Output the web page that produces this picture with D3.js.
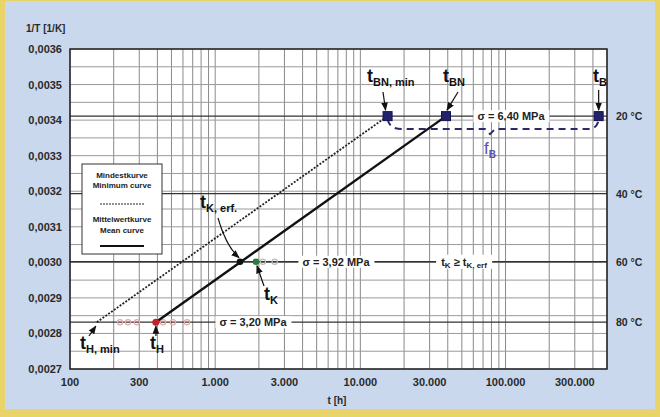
<!DOCTYPE html>
<html><head><meta charset="utf-8">
<script src="https://cdn.jsdelivr.net/npm/d3@7"></script>
<style>
html,body{margin:0;padding:0;background:#fff;}
svg text{font-family:"Liberation Sans",Arial,sans-serif;}
</style></head>
<body><svg id="c" width="660" height="417"></svg>
<script>
// ---- data ----
const xTicks = [100, 300, 1000, 3000, 10000, 30000, 100000, 300000];
const xTickLabels = ["100", "300", "1.000", "3.000", "10.000", "30.000", "100.000", "300.000"];
const yTicks = [0.0027, 0.0028, 0.0029, 0.0030, 0.0031, 0.0032, 0.0033, 0.0034, 0.0035, 0.0036];
const yTickLabels = ["0,0027", "0,0028", "0,0029", "0,0030", "0,0031", "0,0032", "0,0033", "0,0034", "0,0035", "0,0036"];
const tempsC = [20, 40, 60, 80];
const tempLabels = ["20 °C", "40 °C", "60 °C", "80 °C"];
const meanCurveT = [390, 38900];       // t_H -> t_BN
const meanCurveC = [80, 20];
const minCurveT = [153, 15400];       // t_H,min -> t_BN,min
const minCurveC = [80, 20];
const tBNmin = 15400, tBN = 38900, tB = 438000;
const tKerf = 1483, tK = 1910, tH = 390, tHmin = 153;
const faintPts80 = [221, 251, 289, 437, 512, 640];
const faintPts60 = [2130, 2570];
const sigmaLabels = ["σ = 6,40 MPa", "σ = 3,92 MPa", "σ = 3,20 MPa"];

const invT = c => 1 / (c + 273.15);

const svg = d3.select("#c");
const W = 660, H = 417;
const L = 70, R = 607, T = 49, B = 369;
const x = d3.scaleLog().domain([100, 500000]).range([L, R]);
const y = d3.scaleLinear().domain([0.0027, 0.0036]).range([B, T]);

// background
svg.append("rect").attr("width", W).attr("height", H).attr("fill", "#e9d46a");
svg.append("rect").attr("x", 5).attr("y", 1).attr("width", W - 10).attr("height", H - 9).attr("fill", "#c9d8ec");
svg.append("rect").attr("x", L).attr("y", T).attr("width", R - L).attr("height", B - T).attr("fill", "#fff");

const defs = svg.append("defs");
defs.append("marker").attr("id", "ah").attr("viewBox", "0 0 10 10").attr("refX", 9).attr("refY", 5)
  .attr("markerWidth", 7).attr("markerHeight", 7).attr("orient", "auto")
  .append("path").attr("d", "M0,1 L10,5 L0,9 Z").attr("fill", "#111");

const g = svg.append("g");
// vertical grid
const vg = [];
for (let d = 100; d <= 100000; d *= 10) for (let m = 1; m <= 9; m++) if (d * m <= 500000) vg.push(d * m);
g.selectAll(".vg").data(vg).join("line").attr("class", "vg")
  .attr("x1", d => x(d)).attr("x2", d => x(d)).attr("y1", T).attr("y2", B)
  .attr("stroke", "#8a8a8a").attr("stroke-width", 1);
// horizontal grid
const hg = d3.range(0, 19).map(i => 0.0027 + i * 0.00005);
g.selectAll(".hg").data(hg).join("line").attr("class", "hg")
  .attr("x1", L).attr("x2", R).attr("y1", d => y(d)).attr("y2", d => y(d))
  .attr("stroke", "#9a9a9a").attr("stroke-width", 1);
// temperature lines
g.selectAll(".tl").data(tempsC).join("line").attr("class", "tl")
  .attr("x1", L).attr("x2", R).attr("y1", d => y(invT(d))).attr("y2", d => y(invT(d)))
  .attr("stroke", "#333").attr("stroke-width", 1.3);

// frame
svg.append("rect").attr("x", L).attr("y", T).attr("width", R - L).attr("height", B - T)
  .attr("fill", "none").attr("stroke", "#222").attr("stroke-width", 1.5);

// axes tick labels
svg.selectAll(".xl").data(xTicks).join("text").attr("class", "xl")
  .attr("x", d => x(d)).attr("y", 386).attr("text-anchor", "middle")
  .attr("font-size", 11).attr("font-weight", "bold").attr("fill", "#2a2a2a")
  .text((d, i) => xTickLabels[i]);
svg.selectAll(".yl").data(yTicks).join("text").attr("class", "yl")
  .attr("x", 62).attr("y", d => y(d) + 4).attr("text-anchor", "end")
  .attr("font-size", 11).attr("font-weight", "bold").attr("fill", "#2a2a2a")
  .text((d, i) => yTickLabels[i]);
svg.append("text").attr("x", 26).attr("y", 32).attr("font-size", 10).attr("font-weight", "bold").attr("fill", "#2a2a2a").text("1/T [1/K]");
svg.append("text").attr("x", 337).attr("y", 404).attr("text-anchor", "middle").attr("font-size", 10).attr("font-weight", "bold").attr("fill", "#2a2a2a").text("t [h]");
svg.selectAll(".tcl").data(tempsC).join("text").attr("class", "tcl")
  .attr("x", 616).attr("y", d => y(invT(d)) + 4)
  .attr("font-size", 10.5).attr("font-weight", "bold").attr("fill", "#2a2a2a")
  .text((d, i) => tempLabels[i]);

// faint points
svg.selectAll(".f80").data(faintPts80).join("circle").attr("class", "f80")
  .attr("cx", d => x(d)).attr("cy", y(invT(80))).attr("r", 2.6)
  .attr("fill", "none").attr("stroke", "#e2aaaa").attr("stroke-width", 1.2);
svg.selectAll(".f60").data(faintPts60).join("circle").attr("class", "f60")
  .attr("cx", d => x(d)).attr("cy", y(invT(60))).attr("r", 2.6)
  .attr("fill", "none").attr("stroke", "#bbbbbb").attr("stroke-width", 1.2);

// sigma labels with white backgrounds
function boxedText(cx, cy, str, size) {
  const t = svg.append("text").attr("x", cx).attr("y", cy + size * 0.36).attr("text-anchor", "middle")
    .attr("font-size", size).attr("font-weight", "bold").attr("fill", "#222").text(str);
  const bb = t.node().getBBox();
  svg.insert("rect", function () { return t.node(); })
    .attr("x", bb.x - 4).attr("y", cy - 6).attr("width", bb.width + 8).attr("height", 12).attr("fill", "#fff");
  return t;
}
boxedText(511, y(invT(20)), sigmaLabels[0], 11);
boxedText(336, y(invT(60)), sigmaLabels[1], 11);
boxedText(253, y(invT(80)), sigmaLabels[2], 11);
// t_K >= t_K,erf
(function () {
  const cy = y(invT(60));
  const t = svg.append("text").attr("x", 464).attr("y", cy + 4).attr("text-anchor", "middle")
    .attr("font-size", 11).attr("font-weight", "bold").attr("fill", "#222");
  t.append("tspan").text("t");
  t.append("tspan").attr("font-size", 8).attr("dy", 2).text("K");
  t.append("tspan").attr("dy", -2).text(" ≥ t");
  t.append("tspan").attr("font-size", 8).attr("dy", 2).text("K, erf");
  const bb = t.node().getBBox();
  svg.insert("rect", function () { return t.node(); })
    .attr("x", bb.x - 5).attr("y", cy - 7).attr("width", bb.width + 10).attr("height", 14).attr("fill", "#fff");
})();

// curves
const line = d3.line().x(d => x(d[0])).y(d => y(invT(d[1])));
svg.append("path").datum(minCurveT.map((t, i) => [t, minCurveC[i]])).attr("d", line)
  .attr("fill", "none").attr("stroke", "#222").attr("stroke-width", 1.8).attr("stroke-dasharray", "2,1.5");
svg.append("path").datum(meanCurveT.map((t, i) => [t, meanCurveC[i]])).attr("d", line)
  .attr("fill", "none").attr("stroke", "#111").attr("stroke-width", 2.4);

// f_B brace
(function () {
  const yy = y(invT(20));
  const x1 = x(tBNmin), x2 = x(tB), xm = 490;
  const yb = yy + 13;
  const d = `M${x1},${yy + 3} Q${x1 + 2},${yb} ${x1 + 14},${yb} L${xm - 5},${yb} L${xm},${yb + 5} L${xm + 5},${yb} L${x2 - 10},${yb} Q${x2 - 2},${yb} ${x2},${yy + 4}`;
  svg.append("path").attr("d", d).attr("fill", "none").attr("stroke", "#2a2a66").attr("stroke-width", 2).attr("stroke-dasharray", "7,5");
  const t = svg.append("text").attr("x", xm - 6).attr("y", yy + 38).attr("font-size", 17).attr("fill", "#5a4fa8");
  t.append("tspan").text("f");
  t.append("tspan").attr("font-size", 10).attr("dy", 4).attr("font-weight", "bold").text("B");
})();

// markers
const yy20 = y(invT(20));
svg.selectAll(".sq").data([tBNmin, tBN, tB]).join("rect").attr("class", "sq")
  .attr("x", d => x(d) - 4.5).attr("y", yy20 - 4.5).attr("width", 9).attr("height", 9)
  .attr("fill", "#22226a").attr("stroke", "#111155");
svg.append("circle").attr("cx", x(tKerf)).attr("cy", y(invT(60))).attr("r", 3.3).attr("fill", "#111");
svg.append("circle").attr("cx", x(tK)).attr("cy", y(invT(60))).attr("r", 3.3).attr("fill", "#2f7a3a");
svg.append("circle").attr("cx", x(tH)).attr("cy", y(invT(80))).attr("r", 3.5).attr("fill", "#c0242a");

// labels with arrows
function tLabel(xp, yp, sub, big) {
  const t = svg.append("text").attr("x", xp).attr("y", yp).attr("fill", "#111").attr("font-weight", "bold");
  t.append("tspan").attr("font-size", big || 18).text("t");
  t.append("tspan").attr("font-size", 11).attr("dy", 4).text(sub);
  return t;
}
function arrow(x1, y1, x2, y2, curve) {
  const d = curve ? `M${x1},${y1} Q${curve[0]},${curve[1]} ${x2},${y2}` : `M${x1},${y1} L${x2},${y2}`;
  svg.append("path").attr("d", d).attr("fill", "none").attr("stroke", "#111").attr("stroke-width", 1.2).attr("marker-end", "url(#ah)");
}
tLabel(367, 82, "BN, min");
arrow(383, 92, x(tBNmin) - 2, yy20 - 6);
tLabel(443, 82, "BN");
arrow(458, 92, x(tBN) + 1, yy20 - 6);
tLabel(593, 82, "B");
arrow(x(tB), 90, x(tB), yy20 - 6);
tLabel(200, 208, "K, erf.");
arrow(218, 218, x(tKerf) - 1, y(invT(60)) - 4, [226, 246]);
tLabel(264, 300, "K");
arrow(264, 286, x(tK) + 1, y(invT(60)) + 4);
tLabel(80, 349, "H, min");
arrow(89, 336, x(tHmin) - 1, y(invT(80)) + 4);
tLabel(150, 349, "H");
arrow(156, 336, x(tH), y(invT(80)) + 4);

// legend
(function () {
  const lx = 82, ly = 164, lw = 80, lh = 90;
  svg.append("rect").attr("x", lx).attr("y", ly).attr("width", lw).attr("height", lh).attr("fill", "#fff").attr("stroke", "#333").attr("stroke-width", 1);
  const cx = lx + lw / 2;
  const tx = (yy, s) => svg.append("text").attr("x", cx).attr("y", yy).attr("text-anchor", "middle").attr("font-size", 8).attr("font-weight", "bold").attr("fill", "#222").text(s);
  tx(ly + 14, "Mindestkurve");
  tx(ly + 24, "Minimum curve");
  svg.append("line").attr("x1", cx - 22).attr("x2", cx + 22).attr("y1", ly + 40).attr("y2", ly + 40).attr("stroke", "#222").attr("stroke-width", 1).attr("stroke-dasharray", "2,1");
  tx(ly + 58, "Mittelwertkurve");
  tx(ly + 69, "Mean curve");
  svg.append("line").attr("x1", cx - 22).attr("x2", cx + 22).attr("y1", ly + 82).attr("y2", ly + 82).attr("stroke", "#111").attr("stroke-width", 2);
})();
</script></body></html>
